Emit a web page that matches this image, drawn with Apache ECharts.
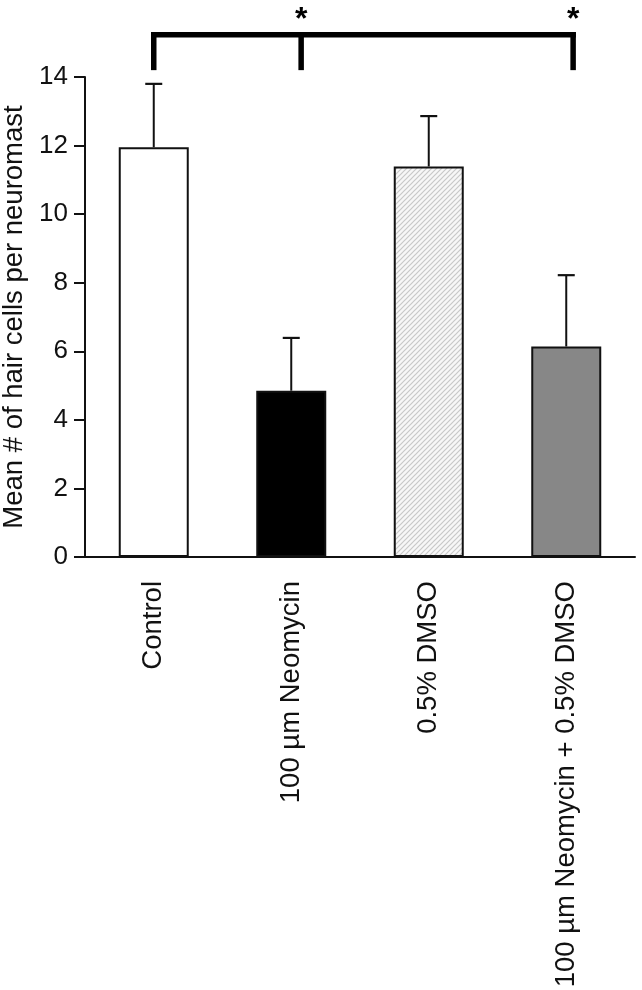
<!DOCTYPE html>
<html>
<head>
<meta charset="utf-8">
<script src="https://cdn.jsdelivr.net/npm/echarts@6/dist/echarts.min.js"></script>
<style>
html,body{margin:0;padding:0;background:#fff;}
#chart{width:642px;height:990px;}
</style>
</head>
<body>
<div id="chart"></div>
<script>
// ---- data ----
const categories = ['Control', '100 µm Neomycin', '0.5% DMSO', '100 µm Neomycin + 0.5% DMSO'];
const means = [11.95, 4.85, 11.39, 6.14];
const errUpper = [13.8, 6.39, 12.86, 8.22];
const yTicks = [0, 2, 4, 6, 8, 10, 12, 14];
const yTitle = 'Mean # of hair cells per neuromast';
// significance bracket: categories joined, level of bar, bottom of drops, star level
const bracketCats = [0, 1, 3];
const bracketShift = [0, 0.072, 0.05];
const bracketLevel = 15.23;
const bracketDropEnd = 14.2;
const starCats = [1, 3];
const starLevel = 15.65;

// ---- styles ----
const FONT = '"Liberation Sans", Arial, Helvetica, sans-serif';
function hatch() {
  const c = document.createElement('canvas');
  c.width = 5; c.height = 5;
  const g = c.getContext('2d');
  g.fillStyle = '#f7f7f7';
  g.fillRect(0, 0, 5, 5);
  g.strokeStyle = '#c8c8c8';
  g.lineWidth = 1.2;
  g.beginPath();
  g.moveTo(-1, 6); g.lineTo(6, -1);
  g.moveTo(-1, 1); g.lineTo(1, -1);
  g.moveTo(4, 6); g.lineTo(6, 4);
  g.stroke();
  return c;
}
const fills = ['#ffffff', '#000000', {image: hatch(), repeat: 'repeat'}, '#878787'];

const chart = echarts.init(document.getElementById('chart'), null, {renderer: 'canvas'});
chart.setOption({
  animation: false,
  grid: {left: 85, right: 7, top: 77, bottom: 433, containLabel: false, outerBoundsMode: 'none'},
  xAxis: {
    type: 'category',
    data: categories,
    axisLine: {lineStyle: {color: '#111', width: 2}},
    axisTick: {alignWithLabel: true, length: 13, lineStyle: {color: '#111', width: 2}},
    axisLabel: {rotate: 90, margin: 24, fontSize: 27.5, color: '#111', fontFamily: FONT, interval: 0}
  },
  yAxis: {
    type: 'value',
    min: 0, max: 14, interval: 2,
    name: yTitle,
    nameLocation: 'middle',
    nameRotate: 90,
    nameGap: 57,
    nameTextStyle: {fontSize: 27.5, color: '#111', fontFamily: FONT},
    splitLine: {show: false},
    axisLine: {show: true, lineStyle: {color: '#111', width: 2}},
    axisTick: {show: true, length: 11, lineStyle: {color: '#111', width: 2}},
    axisLabel: {margin: 17, fontSize: 26, color: '#111', fontFamily: FONT,
      formatter: v => yTicks.includes(v) ? String(v) : ''}
  },
  series: [
    {
      type: 'bar',
      barWidth: 70,
      data: means.map((v, i) => ({value: v, itemStyle: {color: fills[i]}})),
      itemStyle: {borderColor: '#111', borderWidth: 2},
      z: 2
    },
    {
      type: 'custom',
      z: 3,
      data: means.map((m, i) => [i, m, errUpper[i]]),
      renderItem: function (params, api) {
        const i = api.value(0);
        const p0 = api.coord([i, api.value(1)]);
        const p1 = api.coord([i, api.value(2)]);
        const cap = 8.5;
        return {
          type: 'group',
          children: [
            {type: 'line', shape: {x1: p0[0], y1: p0[1], x2: p1[0], y2: p1[1]}, style: {stroke: '#111', lineWidth: 2}},
            {type: 'line', shape: {x1: p1[0] - cap, y1: p1[1], x2: p1[0] + cap, y2: p1[1]}, style: {stroke: '#111', lineWidth: 2.2}}
          ]
        };
      }
    },
    {
      type: 'custom',
      z: 4,
      clip: false,
      data: [[0]],
      renderItem: function (params, api) {
        const band = api.size([1, 0])[0];
        const xs = bracketCats.map((c, k) => api.coord([c, 0])[0] + bracketShift[k] * band);
        const yTop = api.coord([0, bracketLevel])[1];
        const yEnd = api.coord([0, bracketDropEnd])[1];
        const t = 5.5;
        const children = [
          {type: 'rect', shape: {x: xs[0] - t / 2, y: yTop - t / 2, width: xs[xs.length - 1] - xs[0] + t, height: t}, style: {fill: '#000'}}
        ];
        xs.forEach(x => children.push({type: 'rect', shape: {x: x - t / 2, y: yTop - t / 2, width: t, height: yEnd - yTop + t / 2}, style: {fill: '#000'}}));
        starCats.forEach(c => {
          const k = bracketCats.indexOf(c);
          const y = api.coord([0, starLevel])[1];
          children.push({type: 'text', style: {text: '*', x: xs[k], y: y, align: 'center', verticalAlign: 'middle', fontSize: 32, fontWeight: 'bold', fontFamily: FONT, fill: '#000'}});
        });
        return {type: 'group', children: children};
      }
    }
  ]
});
</script>
</body>
</html>
